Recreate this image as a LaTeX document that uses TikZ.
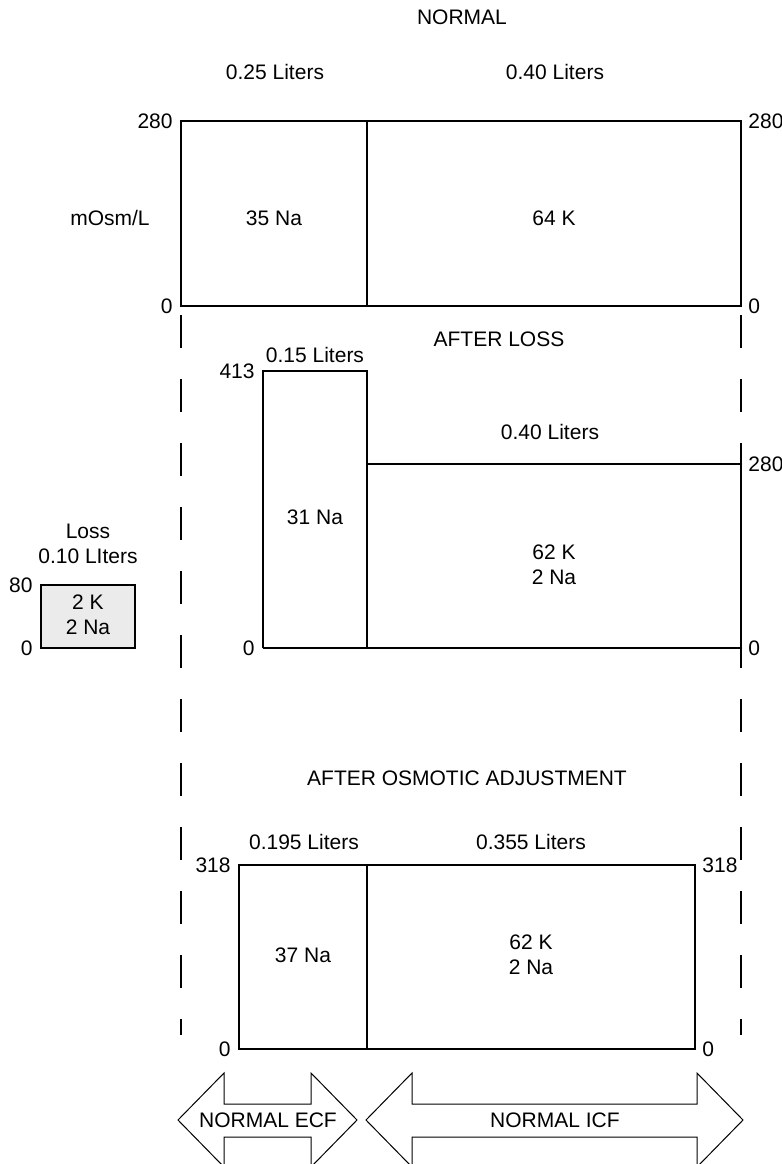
\documentclass[tikz,border=0pt]{standalone}
\usepackage{fontspec}
\setmainfont{Liberation Sans}
\usepackage{xcolor}
\usetikzlibrary{positioning}

\begin{document}
\begin{tikzpicture}[x=0.5pt, y=-0.5pt,
  lbl/.style={font=\fontsize{10.5}{12.5}\selectfont, inner sep=0pt, align=center},
  lval/.style={lbl, anchor=east, xshift=-4pt},
  rval/.style={lbl, anchor=west, xshift=3.5pt},
  comp/.style={draw, line width=1pt},
  lossbox/.style={draw, line width=0.75pt, fill=black!8},
  guide/.style={line width=1pt, dash pattern=on 16.5pt off 15.5pt},
  bigarrow/.style={draw, line width=0.5pt, line join=miter}]

  \useasboundingbox (0,0) rectangle (782,1164);
  \clip (0,0) rectangle (782,1164);

  % normal
  \node[lbl] (tnorm) at (462,17) {NORMAL};
  \node[lbl] (v1) at (275,72) {0.25 Liters};
  \node[lbl] (v2) at (555,72) {0.40 Liters};
  \draw[comp] (181,121) rectangle (741,306);
  \draw[comp] (367,121) -- (367,306);
  \coordinate (ntl) at (181,121); \coordinate (nbl) at (181,306);
  \coordinate (ntr) at (741,121); \coordinate (nbr) at (741,306);
  \node[lval] (n280l) at (ntl) {280};
  \node[lval] (n0l) at (nbl) {0};
  \node[rval] (n280r) at (ntr) {280};
  \node[rval] (n0r) at (nbr) {0};
  \node[lbl] (unit) at (110,218) {mOsm/L};
  \node[lbl] (nna) at (274,218) {35 Na};
  \node[lbl] (nk) at (554,218) {64 K};

  \draw[guide] (181,315) -- (181,1035);
  \draw[guide] (741,315) -- (741,1035);

  % after loss
  \node[lbl] (tloss) at (499,339) {AFTER LOSS};
  \node[lbl] (v3) at (315,355) {0.15 Liters};
  \node[lbl] (v4) at (550,432) {0.40 Liters};
  \draw[comp] (263,648) -- (263,371) -- (367,371) -- (367,648);
  \draw[comp] (367,464) -- (741,464) -- (741,648) -- (263,648);
  \coordinate (atl) at (263,371); \coordinate (abl) at (263,648);
  \coordinate (atr) at (741,464); \coordinate (abr) at (741,648);
  \node[lval] (a413) at (atl) {413};
  \node[lval] (a0l) at (abl) {0};
  \node[rval] (a280) at (atr) {280};
  \node[rval] (a0r) at (abr) {0};
  \node[lbl] (ana) at (315,517) {31 Na};
  \node[lbl] (ak) at (554,565) {62 K\\2 Na};

  \node[lbl] (ltxt) at (88,544) {Loss\\0.10 LIters};
  \draw[lossbox] (41,585) rectangle (135,648);
  \coordinate (ltl) at (41,585); \coordinate (lbl) at (41,648);
  \node[lval] (l80) at (ltl) {80};
  \node[lval] (l0) at (lbl) {0};
  \node[lbl] (lk) at (88,615) {2 K\\2 Na};

  % after osmotic adjustment
  \node[lbl] (tadj) at (467,778) {AFTER OSMOTIC ADJUSTMENT};
  \node[lbl] (v5) at (304,842) {0.195 Liters};
  \node[lbl] (v6) at (531,842) {0.355 Liters};
  \draw[comp] (239,865) rectangle (695,1049);
  \draw[comp] (367,865) -- (367,1049);
  \coordinate (otl) at (239,865); \coordinate (obl) at (239,1049);
  \coordinate (otr) at (695,865); \coordinate (obr) at (695,1049);
  \node[lval] (o318l) at (otl) {318};
  \node[lval] (o0l) at (obl) {0};
  \node[rval] (o318r) at (otr) {318};
  \node[rval] (o0r) at (obr) {0};
  \node[lbl] (ona) at (303,955) {37 Na};
  \node[lbl] (ok) at (531,955) {62 K\\2 Na};

  \draw[bigarrow] (178,1120) -- (224,1073) -- (224,1104) -- (311,1104) -- (311,1073)
    -- (357,1120) -- (311,1167) -- (311,1137) -- (224,1137) -- (224,1167) -- cycle;
  \draw[bigarrow] (366,1120) -- (412,1073) -- (412,1104) -- (697,1104) -- (697,1073)
    -- (743,1120) -- (697,1167) -- (697,1137) -- (412,1137) -- (412,1167) -- cycle;
  \node[lbl] (ecf) at (268,1120) {NORMAL ECF};
  \node[lbl] (icf) at (555,1120) {NORMAL ICF};
\end{tikzpicture}
\end{document}
